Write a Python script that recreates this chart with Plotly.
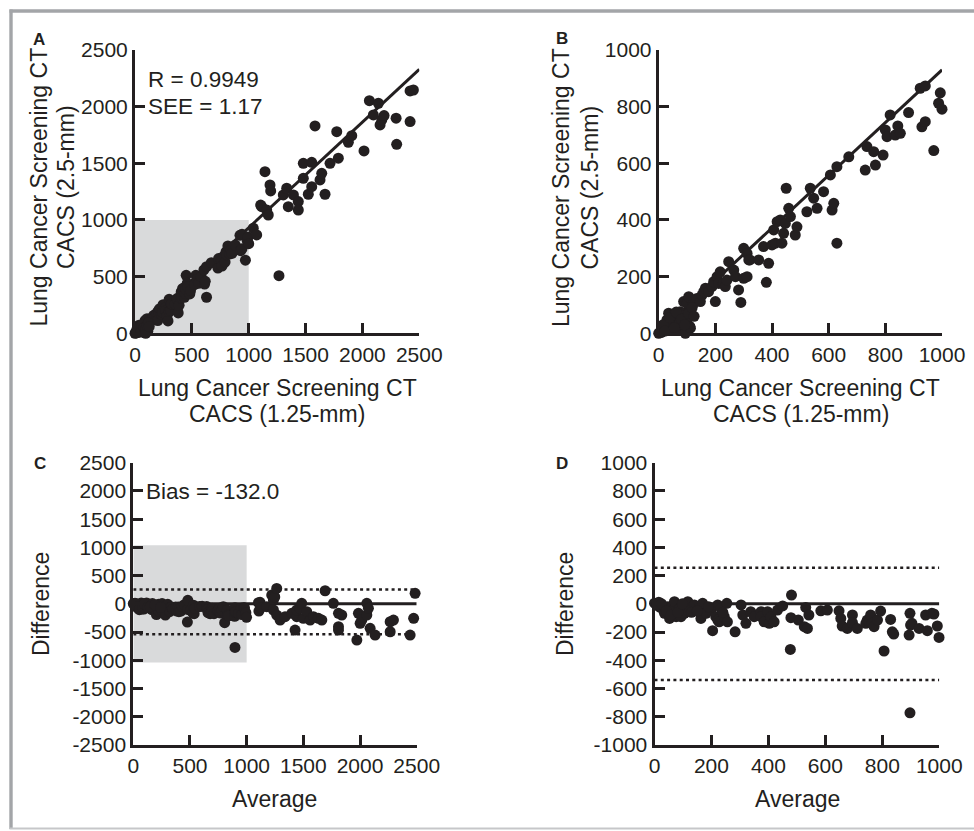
import plotly.graph_objects as go

# ---------------- data ----------------
# Panels A/B: CACS 1.25-mm (x) vs 2.5-mm (y); points with x <= 1000 (shown in B and A)
low_x = [0, 6, 10, 18, 25, 29, 35, 40, 47, 47, 53, 60, 65, 70, 76, 76, 85, 88, 94, 100,
         100, 106, 110, 112, 120, 130, 135, 147, 153, 159, 165, 176, 188, 194, 200, 206, 212, 217, 228, 235,
         241, 247, 265, 271, 282, 290, 300, 300, 312, 312, 318, 322, 353, 370, 380, 388, 400, 406, 412, 418,
         429, 435, 441, 447, 450, 459, 465, 482, 488, 523, 535, 547, 559, 582, 606, 612, 618, 629, 629, 671,
         729, 735, 759, 765, 792, 800, 806, 817, 835, 844, 853, 882, 923, 941, 929, 941, 971, 988, 994, 1000,
         15, 22, 38, 55, 62, 80, 92, 105, 118, 125]
low_y = [0, 6, 3, 18, 15, 47, 71, 10, 41, 29, 65, 55, 12, 30, 41, 76, 60, 112, 0, 47,
         106, 129, 24, 18, 100, 115, 123, 112, 135, 147, 159, 147, 165, 182, 112, 200, 176, 217, 176, 165,
         188, 253, 223, 200, 153, 109, 194, 300, 200, 282, 259, 259, 259, 306, 180, 247, 312, 365, 318, 394,
         400, 318, 353, 388, 512, 441, 412, 347, 376, 429, 512, 477, 441, 500, 559, 435, 459, 588, 318, 623,
         576, 659, 641, 594, 629, 718, 694, 771, 700, 732, 706, 779, 865, 873, 729, 747, 645, 812, 849, 791,
         30, 8, 55, 20, 75, 50, 30, 70, 90, 60]
# points with x > 1000 (panel A only)
high_x = [1040, 1070, 1105, 1114, 1143, 1158, 1172, 1187, 1193, 1266, 1304, 1334, 1348, 1393, 1436, 1436,
          1480, 1480, 1524, 1554, 1554, 1583, 1627, 1642, 1671, 1715, 1774, 1788, 1876, 1906, 2014, 2061,
          2096, 2140, 2155, 2170, 2190, 2296, 2301, 2419, 2419, 2448]
high_y = [927, 868, 1132, 1117, 1426, 1088, 1044, 1309, 1256, 508, 1221, 1280, 1117, 1221, 1162, 1088,
          1500, 1368, 1227, 1509, 1294, 1830, 1353, 1412, 1227, 1500, 1779, 1545, 1686, 1744, 1609, 2053,
          1927, 2030, 1839, 1883, 1921, 1898, 1668, 1868, 2139, 2147]
fitA_x = [0, 2500]
fitA_y = [0, 2330]
fitB_x = [0, 1000]
fitB_y = [0, 930]

# Panels C/D: Bland-Altman, average (x) vs difference (y); average <= 1000 (shown in D and C)
ba_low_x = [0, 8, 15, 20, 29, 35, 47, 53, 64, 70, 76, 88, 93, 105, 117, 117, 123, 140, 158, 163,
            169, 181, 198, 204, 215, 222, 222, 227, 233, 245, 254, 256, 283, 304, 310, 321, 338, 350, 374, 374,
            385, 397, 403, 409, 420, 432, 450, 477, 479, 481, 505, 526, 531, 537, 542, 584, 607, 648, 654, 659,
            677, 695, 695, 712, 742, 747, 754, 759, 764, 771, 783, 794, 806, 829, 835, 840, 894, 897, 897, 899,
            904, 929, 952, 958, 974, 981, 993, 999,
            10, 25, 42, 58, 82, 98, 130, 150, 190, 240]
ba_low_y = [5, -10, 12, -25, -32, -67, -20, -103, -44, 15, -91, -32, -91, -67, 15, -44, -32, -8, -32, -103,
            4, -67, -44, -190, -91, -8, -115, -127, -32, -91, 4, -127, -198, -8, -79, -138, -56, -91, -56, -91,
            -127, -56, -138, -91, -127, -44, -15, -323, -98, 62, -115, -162, -25, -174, -79, -49, -44, -49, -103, -157,
            -174, -79, -134, -174, -138, -115, -127, -79, -138, -162, -115, -51, -334, -110, -198, -214, -221, -67, -772, -150,
            -138, -174, -79, -190, -67, -72, -157, -238,
            -5, 0, -50, -80, -60, 0, -60, -50, -20, -60]
ba_high_x = [1104, 1108, 1118, 1123, 1177, 1221, 1236, 1236, 1248, 1265, 1265, 1295, 1339, 1398, 1427, 1442,
             1442, 1471, 1486, 1500, 1530, 1560, 1589, 1633, 1663, 1692, 1765, 1810, 1810, 1810, 1839, 1972,
             1986, 2001, 2016, 2060, 2060, 2074, 2089, 2133, 2266, 2266, 2295, 2442, 2473, 2486]
ba_high_y = [20, -128, 27, -70, -51, 156, 67, -109, 122, 274, -198, -287, -228, -168, -464, -228,
             -109, -80, 9, -257, -139, -287, -228, -257, -287, 232, 9, -168, -405, -464, -198, -641,
             -168, -345, -287, 9, -198, -80, -434, -553, -317, -494, -287, -553, -257, 186]
loa_upper = 255
loa_lower = -540

assert len(low_x) == len(low_y) and len(high_x) == len(high_y)
assert len(ba_low_x) == len(ba_low_y) and len(ba_high_x) == len(ba_high_y)

ticksA = [0, 500, 1000, 1500, 2000, 2500]
ticksB = [0, 200, 400, 600, 800, 1000]
ticksC_y = [-2500, -2000, -1500, -1000, -500, 0, 500, 1000, 1500, 2000, 2500]
ticksD_y = [-1000, -800, -600, -400, -200, 0, 200, 400, 600, 800, 1000]

# ---------------- figure ----------------
W, H = 974, 831
INK = '#231f20'
FONT = 'Liberation Sans, Arial, Helvetica, sans-serif'


def px(x):
    return x / W


def py(y):
    return 1 - y / H


fig = go.Figure()
mk = dict(size=11, color=INK)


def add_points(xs, ys, xa, ya):
    fig.add_trace(go.Scatter(x=xs, y=ys, mode='markers', marker=mk, xaxis=xa, yaxis=ya,
                             cliponaxis=False, showlegend=False, hoverinfo='skip'))


def add_line(xs, ys, xa, ya, dash='solid', width=3):
    fig.add_trace(go.Scatter(x=xs, y=ys, mode='lines', line=dict(color=INK, width=width, dash=dash),
                             xaxis=xa, yaxis=ya, cliponaxis=False, showlegend=False, hoverinfo='skip'))


# A
add_line(fitA_x, fitA_y, 'x', 'y')
add_points(low_x + high_x, low_y + high_y, 'x', 'y')
# B
add_line(fitB_x, fitB_y, 'x2', 'y2')
add_points(low_x, low_y, 'x2', 'y2')
# C
add_line([0, 2500], [0, 0], 'x3', 'y3')
add_line([0, 2500], [loa_upper, loa_upper], 'x3', 'y3', dash='3px,3.3px', width=2.5)
add_line([0, 2500], [loa_lower, loa_lower], 'x3', 'y3', dash='3px,3.3px', width=2.5)
add_points(ba_low_x + ba_high_x, ba_low_y + ba_high_y, 'x3', 'y3')
# D
add_line([0, 1000], [0, 0], 'x4', 'y4')
add_line([0, 1000], [loa_upper, loa_upper], 'x4', 'y4', dash='3px,3.3px', width=2.5)
add_line([0, 1000], [loa_lower, loa_lower], 'x4', 'y4', dash='3px,3.3px', width=2.5)
add_points(ba_low_x, ba_low_y, 'x4', 'y4')


def ax(domain, rng, ticks, anchor):
    return dict(domain=domain, range=rng, anchor=anchor, tickvals=ticks,
                ticktext=[str(t) for t in ticks], showgrid=False, zeroline=False,
                showline=True, linecolor=INK, linewidth=3, ticks='inside', ticklen=10,
                tickwidth=3, tickcolor=INK, tickfont=dict(family=FONT, size=21, color=INK),
                fixedrange=True, automargin=False)


yAB = [py(333.3), py(50)]
yCD = [py(745), py(462.7)]
fig.update_layout(
    template='none',
    width=W, height=H, margin=dict(l=0, r=0, t=0, b=0, pad=0, autoexpand=False),
    paper_bgcolor='white', plot_bgcolor='rgba(0,0,0,0)',
    xaxis=ax([px(135), px(419.3)], [0, 2500], ticksA, 'y'),
    yaxis=ax(yAB, [0, 2500], ticksA, 'x'),
    xaxis2=ax([px(658.7), px(942)], [0, 1000], ticksB, 'y2'),
    yaxis2=ax(yAB, [0, 1000], ticksB, 'x2'),
    xaxis3=ax([px(133.3), px(416.7)], [0, 2500], ticksA, 'y3'),
    yaxis3=ax(yCD, [-2500, 2500], ticksC_y, 'x3'),
    xaxis4=ax([px(654.5), px(939.3)], [0, 1000], ticksB, 'y4'),
    yaxis4=ax(yCD, [-1000, 1000], ticksD_y, 'x4'),
    font=dict(family=FONT, color=INK),
    showlegend=False,
)

shapes = [
    dict(type='rect', xref='x', yref='y', x0=0, x1=1000, y0=0, y1=1000,
         fillcolor='#d9dadb', line=dict(width=0), layer='below'),
    dict(type='rect', xref='x3', yref='y3', x0=0, x1=1000, y0=-1040, y1=1040,
         fillcolor='#d9dadb', line=dict(width=0), layer='below'),
    # outer frame
    dict(type='line', xref='paper', yref='paper', x0=px(9.5), x1=px(974), y0=py(11), y1=py(11),
         line=dict(color='#a3a5a8', width=3.4)),
    dict(type='line', xref='paper', yref='paper', x0=px(11), x1=px(11), y0=py(9.5), y1=py(829),
         line=dict(color='#a3a5a8', width=3.4)),
    dict(type='line', xref='paper', yref='paper', x0=px(9.5), x1=px(974), y0=py(828.5), y1=py(828.5),
         line=dict(color='#c6c7c9', width=2)),
]
fig.update_layout(shapes=shapes)

ann = []


def text(t, x, y, size=23, bold=False, angle=0, xanchor='center'):
    ann.append(dict(text=('<b>%s</b>' % t) if bold else t, x=px(x), y=py(y), xref='paper', yref='paper',
                    showarrow=False, xanchor=xanchor, yanchor='middle', textangle=angle,
                    font=dict(family=FONT, size=size, color=INK)))


# panel letters
text('A', 39, 39, size=17, bold=True)
text('B', 562, 38, size=17, bold=True)
text('C', 40, 463, size=17, bold=True)
text('D', 562, 463, size=17, bold=True)
# statistics
text('R = 0.9949', 146, 80, size=22.5, xanchor='left')
text('SEE = 1.17', 146, 106, size=22.5, xanchor='left')
text('Bias = -132.0', 144, 491, size=22.5, xanchor='left')
# axis titles A/B
for cx in (277, 800.5):
    text('Lung Cancer Screening CT', cx, 387.5)
    text('CACS (1.25-mm)', cx, 414)
text('Lung Cancer Screening CT', 38.5, 187, angle=-90)
text('CACS (2.5-mm)', 66, 187, angle=-90)
text('Lung Cancer Screening CT', 561, 188, angle=-90)
text('CACS (2.5-mm)', 589.5, 188, angle=-90)
# axis titles C/D
text('Difference', 41, 604, angle=-90)
text('Difference', 565, 604, angle=-90)
text('Average', 274, 799)
text('Average', 797, 799)
fig.update_layout(annotations=ann)

fig.write_html('out.html', config={'displayModeBar': False},
               post_script="document.body.style.margin='0';document.body.style.padding='0';"
                           "document.body.style.overflow='hidden';")
